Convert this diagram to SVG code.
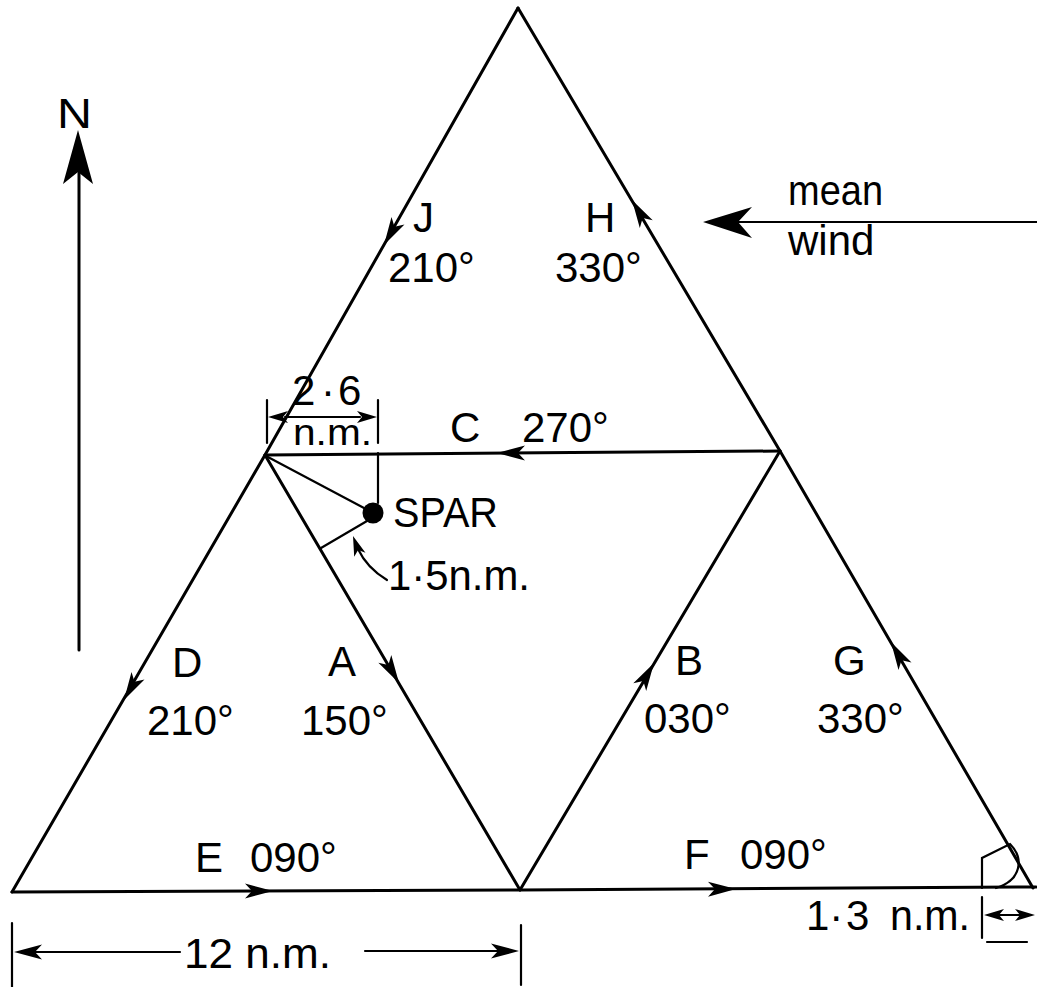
<svg xmlns="http://www.w3.org/2000/svg" width="1037" height="987" viewBox="0 0 1037 987">
<style>
.ln{fill:none;stroke:#000;stroke-width:3;stroke-linecap:round;stroke-linejoin:round}
.th{fill:none;stroke:#000;stroke-width:2.2;stroke-linecap:round}
.t{font-family:"Liberation Sans",Arial,sans-serif;font-size:42px;fill:#000}
.s{font-family:"Liberation Sans",Arial,sans-serif;font-size:36px;fill:#000}
</style>
<defs>
<path id="ah" d="M0,0 L-28,-7.5 L-21,0 L-28,7.5 Z" fill="#000"/>
<path id="sh" d="M0,0 L-20,-6 L-15,0 L-20,6 Z" fill="#000"/>
</defs>
<rect width="1037" height="987" fill="#fff"/>

<g id="legs">
<polyline class="ln" points="518,8 265,455 12,892"/>
<polyline class="ln" points="518,8 780,451 1033,888"/>
<line class="ln" x1="265" y1="455" x2="780" y2="451"/>
<line class="ln" x1="265" y1="455" x2="520" y2="890"/>
<line class="ln" x1="520" y1="890" x2="780" y2="451"/>
<polyline class="ln" points="12,892 520,890 1036,887"/>
<use href="#ah" transform="translate(384,245) rotate(120)"/>
<use href="#ah" transform="translate(632,200) rotate(-120.6)"/>
<use href="#ah" transform="translate(497,453) rotate(180)"/>
<use href="#ah" transform="translate(124,700) rotate(120)"/>
<use href="#ah" transform="translate(399,683) rotate(59.6)"/>
<use href="#ah" transform="translate(654,663) rotate(-59.4)"/>
<use href="#ah" transform="translate(891,642) rotate(-120)"/>
<use href="#ah" transform="translate(273,891) rotate(0)"/>
<use href="#ah" transform="translate(736,889) rotate(-0.3)"/>
</g>

<g id="leg-labels">
<text class="t" x="413" y="232">J</text>
<text class="t" x="388" y="282">210°</text>
<text class="t" x="585" y="232">H</text>
<text class="t" x="555" y="282">330°</text>
<text class="t" x="450" y="442">C</text>
<text class="t" x="522" y="442">270°</text>
<text class="t" x="172" y="677">D</text>
<text class="t" x="147" y="735">210°</text>
<text class="t" x="328" y="676">A</text>
<text class="t" x="301" y="735">150°</text>
<text class="t" x="675" y="675">B</text>
<text class="t" x="644" y="733">030°</text>
<text class="t" x="833" y="675">G</text>
<text class="t" x="817" y="733">330°</text>
<text class="t" x="195" y="872">E</text>
<text class="t" x="250" y="872">090°</text>
<text class="t" x="684" y="869">F</text>
<text class="t" x="740" y="869">090°</text>
</g>

<g id="north">
<line class="ln" x1="79" y1="165" x2="79" y2="650"/>
<path d="M78,130 L63,184 L78,172 L93,184 Z" fill="#000"/>
<text class="t" x="57" y="128" font-size="62" textLength="35" lengthAdjust="spacingAndGlyphs">N</text>
</g>

<g id="wind">
<line class="th" x1="735" y1="222" x2="1037" y2="222" stroke-width="2.5"/>
<path d="M703,222 L752,207 L738,222 L752,238 Z" fill="#000"/>
<text class="t" x="788" y="205" textLength="95" lengthAdjust="spacingAndGlyphs">mean</text>
<text class="t" x="788" y="255">wind</text>
</g>

<g id="spar">
<line class="th" x1="266" y1="456" x2="364" y2="508"/>
<line class="th" x1="378" y1="453" x2="378" y2="503"/>
<line class="th" x1="321" y1="548" x2="367" y2="521"/>
<circle cx="373" cy="513" r="10.5" fill="#000"/>
<text class="t" x="393" y="527" textLength="105" lengthAdjust="spacingAndGlyphs">SPAR</text>
<path class="th" d="M387,580 Q367,568 358,549"/>
<use href="#sh" transform="translate(353,536) rotate(-110)"/>
<text class="t" x="388" y="590" textLength="142" lengthAdjust="spacingAndGlyphs">1·5n.m.</text>
</g>

<g id="dim-2-6">
<line class="th" x1="267" y1="400" x2="267" y2="443"/>
<line class="th" x1="378" y1="400" x2="378" y2="443"/>
<line class="th" x1="285" y1="417" x2="360" y2="417"/>
<use href="#sh" transform="translate(268,417) rotate(180)"/>
<use href="#sh" transform="translate(377,417)"/>
<text class="t" font-size="38" x="292 321 338" y="405">2·6</text>
<text class="s" x="293" y="445" textLength="79" lengthAdjust="spacingAndGlyphs">n.m.</text>
</g>

<g id="dim-12">
<line class="th" x1="12" y1="923" x2="12" y2="988"/>
<line class="th" x1="521" y1="925" x2="521" y2="985"/>
<line class="th" x1="30" y1="952" x2="180" y2="952"/>
<line class="th" x1="365" y1="951" x2="500" y2="951"/>
<use href="#ah" transform="translate(14,952) rotate(180)"/>
<use href="#ah" transform="translate(519,951)"/>
<text class="t" x="184" y="968" font-size="43" textLength="147" lengthAdjust="spacingAndGlyphs">12 n.m.</text>
</g>

<g id="dim-1-3">
<path class="th" d="M982,888 V858 L1010,844 C1024,858 1022,880 996,888"/>
<line class="th" x1="982" y1="897" x2="982" y2="938"/>
<line class="th" x1="995" y1="915" x2="1025" y2="915"/>
<use href="#sh" transform="translate(984,915) rotate(180)"/>
<use href="#sh" transform="translate(1035,915)"/>
<line class="th" x1="987" y1="942" x2="1027" y2="942"/>
<text class="t" font-size="39" x="806" y="930">1·</text>
<text class="t" font-size="39" x="846" y="930">3</text>
<text class="t" font-size="39" x="890" y="930" textLength="80" lengthAdjust="spacingAndGlyphs">n.m.</text>
</g>
</svg>
